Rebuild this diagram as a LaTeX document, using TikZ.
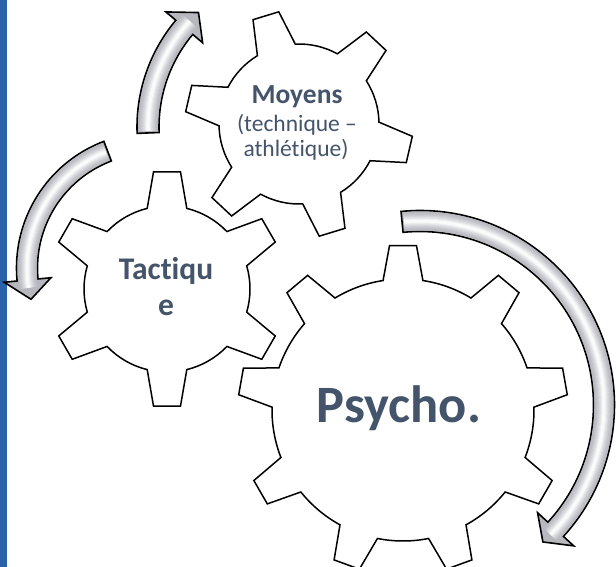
\documentclass[tikz,border=0pt]{standalone}
\usepackage{fontspec}
\setmainfont{Carlito}[Ligatures=NoCommon]
\definecolor{barblue}{RGB}{41,98,168}
\definecolor{labelblue}{RGB}{68,84,106}
\definecolor{arrowgrey}{RGB}{182,184,190}
\definecolor{arrowhl}{RGB}{250,250,251}
\tikzset{
  gearbody/.style={fill=white, draw=black, line width=1.5pt, line join=miter},
  arrowbody/.style={fill=arrowgrey, draw=black, line width=1.6pt, line join=miter},
  lbl/.style={text=labelblue, inner sep=0pt, anchor=base},
}
% #1 cx, #2 cy, #3 teeth, #4 outer radius, #5 root radius, #6 first tooth angle
\newcommand{\drawgear}[6]{%
  \pgfmathsetmacro{\gstep}{360/#3}%
  \pgfmathsetmacro{\gtip}{deg(13.5/#4)}%
  \pgfmathsetmacro{\gbase}{deg(20/#5)}%
  \draw[gearbody, shift={(#1,#2)}] ({#6-\gbase}:#5)
    \foreach \k in {1,...,#3}{
      -- ({#6+(\k-1)*\gstep-\gtip}:#4) -- ({#6+(\k-1)*\gstep+\gtip}:#4)
      -- ({#6+(\k-1)*\gstep+\gbase}:#5)
      arc[start angle={#6+(\k-1)*\gstep+\gbase}, end angle={#6+\k*\gstep-\gbase}, radius=#5]
    } -- cycle;
}
% #1 cx, #2 cy, #3 radius, #4 shaft half width, #5 head half width, #6 tail angle, #7 head base angle, #8 tip angle
\newcommand{\curvedarrow}[8]{%
  \pgfmathsetmacro{\ast}{#6+sign(#7-#6)*deg(2/#3)}%
  \pgfmathsetmacro{\aen}{#7+0.4*(#8-#7)}%
  \begin{scope}[shift={(#1,#2)}]
    \path[arrowbody] ({#6}:{#3+#4}) arc[start angle={#6}, end angle={#7}, radius={#3+#4}]
      -- ({#7}:{#3+#5}) -- ({#8}:{#3}) -- ({#7}:{#3-#5}) -- ({#7}:{#3-#4})
      arc[start angle={#7}, end angle={#6}, radius={#3-#4}] -- cycle;
    \foreach \i in {1,...,9}{
      \pgfmathsetmacro{\lw}{2*#4*(1-\i/10.5)}%
      \pgfmathsetmacro{\pc}{100*(\i/9)^1.6}%
      \draw[color=arrowhl!\pc!arrowgrey, line width=\lw] ({\ast}:{#3}) arc[start angle={\ast}, end angle={\aen}, radius={#3}];
    }
  \end{scope}}
\begin{document}
\begin{tikzpicture}[x=1pt,y=-1pt]
\useasboundingbox (0,0) rectangle (616,567);
\fill[white] (0,0) rectangle (616,567);
\fill[barblue] (0,0) rectangle (7,567);
% gears
\drawgear{403}{410}{9}{165}{131}{30}
\drawgear{167}{289}{6}{118}{83}{30}
\drawgear{299}{124}{6}{114}{80}{13}
% curved arrows
\curvedarrow{303}{127}{155}{11}{24}{177.8}{220}{227.6}
\curvedarrow{152}{268}{125}{10.5}{23.5}{249.2}{174.5}{165.5}
\curvedarrow{420}{405}{184}{10.5}{24.5}{264.4}{402.5}{408.1}
% labels
\node[lbl, font=\fontsize{27.5}{32}\selectfont\bfseries] (moyens) at (297,104) {Moyens};
\node[lbl, font=\fontsize{23.5}{28}\selectfont] (tech) at (297,132) {(technique –};
\node[lbl, font=\fontsize{23.5}{28}\selectfont] (athl) at (296,157) {athlétique)};
\node[lbl, font=\fontsize{31.5}{36}\selectfont\bfseries] (tact1) at (166,279) {Tactiqu};
\node[lbl, font=\fontsize{31.5}{36}\selectfont\bfseries] (tact2) at (166,315) {e};
\node[lbl, font=\fontsize{52.5}{60}\selectfont\bfseries] (psycho) at (399,422) {Psycho.};
\end{tikzpicture}
\end{document}
